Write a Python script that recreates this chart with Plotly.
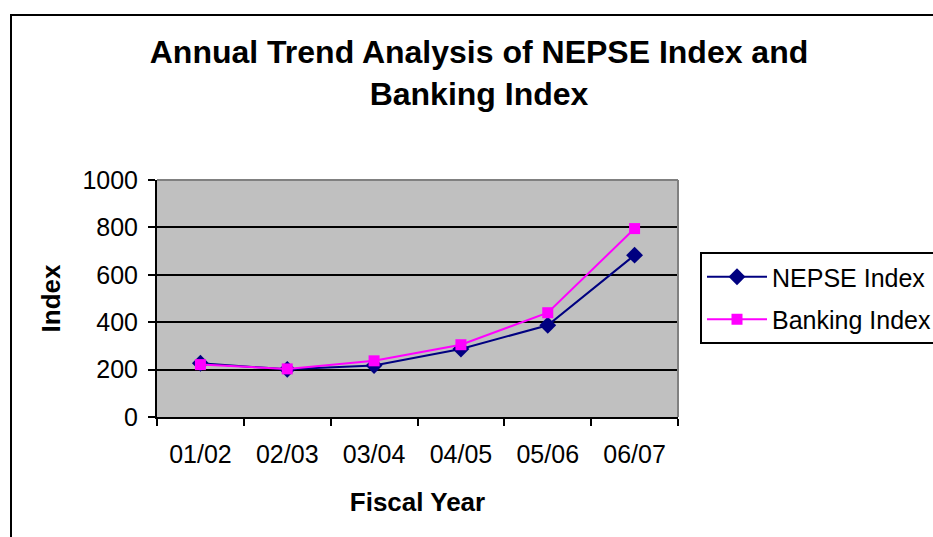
import plotly.graph_objects as go

# Fiscal years and index values
fiscal_years = ["01/02", "02/03", "03/04", "04/05", "05/06", "06/07"]
nepse_index = [227, 201, 217, 287, 387, 683]
banking_index = [221, 203, 237, 305, 440, 795]

FONT = "Liberation Sans, Arial, sans-serif"
W, H = 933, 537
ML, MR, MT, MB = 157, 255, 180, 120
PW, PH = W - ML - MR, H - MT - MB


def px_x(px):
    return (px - ML) / PW


def px_y(py):
    return (H - MB - py) / PH


fig = go.Figure()
fig.add_trace(go.Scatter(
    x=fiscal_years, y=nepse_index, name="NEPSE Index",
    mode="lines+markers", legendgroup="a",
    line=dict(color="#000080", width=2),
    marker=dict(symbol="diamond", size=13, color="#000080"),
))
fig.add_trace(go.Scatter(
    x=fiscal_years, y=banking_index, name="Banking Index",
    mode="lines+markers", legendgroup="b",
    line=dict(color="#FF00FF", width=2),
    marker=dict(symbol="square", size=11, color="#FF00FF"),
))

fig.update_layout(
    width=W, height=H,
    margin=dict(l=ML, r=MR, t=MT, b=MB, autoexpand=False),
    paper_bgcolor="white",
    plot_bgcolor="#C0C0C0",
    font=dict(family=FONT, size=25, color="black"),
    title=dict(
        text="<b>Annual Trend Analysis of NEPSE Index and<br>Banking Index</b>",
        font=dict(family=FONT, size=32, color="black"),
        x=479 / W, xanchor="center", xref="container",
        y=1 - 63 / H, yanchor="top", yref="container",
    ),
    legend=dict(
        x=px_x(700), xanchor="left", y=px_y(252), yanchor="top",
        bordercolor="black", borderwidth=2, bgcolor="white",
        font=dict(family=FONT, size=25, color="black"),
        tracegroupgap=7, itemwidth=60,
    ),
    showlegend=True,
)

fig.update_xaxes(
    type="category", range=[-0.5, 5.5],
    tickson="boundaries", ticks="outside", ticklen=7, tickwidth=2, tickcolor="black",
    showline=True, linecolor="black", linewidth=2,
    showgrid=False, zeroline=False,
    tickfont=dict(family=FONT, size=25),
    ticklabelstandoff=14,
    title=dict(text="<b>Fiscal Year</b>", font=dict(family=FONT, size=26), standoff=26),
)
fig.update_yaxes(
    range=[0, 1000], dtick=200,
    ticks="outside", ticklen=7, tickwidth=2, tickcolor="black",
    showline=True, linecolor="black", linewidth=2,
    showgrid=True, gridcolor="black", gridwidth=2, zeroline=False,
    tickfont=dict(family=FONT, size=25),
    ticklabelstandoff=5,
    title=dict(text="<b>Index</b>", font=dict(family=FONT, size=26), standoff=14),
)

# plot-area border (grey, top and right) and the outer chart frame
fig.add_shape(type="line", xref="paper", yref="paper", x0=0, x1=1, y0=1, y1=1,
              line=dict(color="#808080", width=2), layer="above")
fig.add_shape(type="line", xref="paper", yref="paper", x0=1, x1=1, y0=0, y1=1,
              line=dict(color="#808080", width=2), layer="above")
fig.add_shape(type="rect", xref="paper", yref="paper",
              x0=px_x(11), x1=px_x(960), y0=px_y(15), y1=px_y(560),
              line=dict(color="black", width=2), fillcolor="rgba(0,0,0,0)", layer="below")

fig.write_html("out.html")
